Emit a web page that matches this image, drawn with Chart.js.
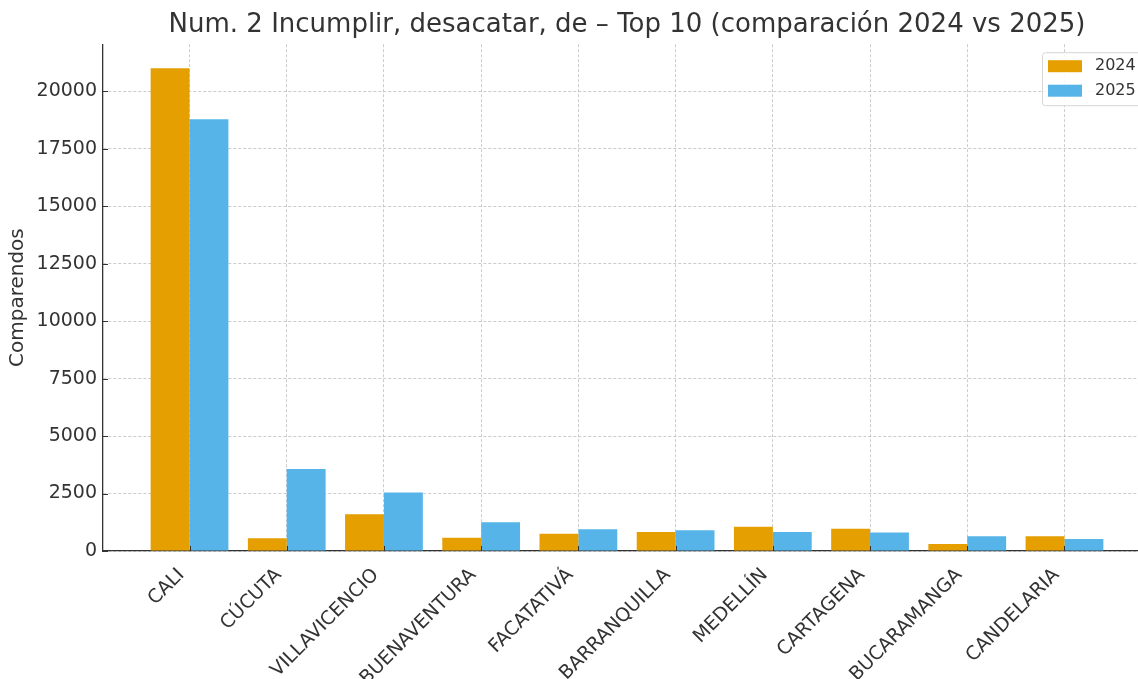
<!DOCTYPE html>
<html>
<head>
<meta charset="utf-8">
<script src="https://cdn.jsdelivr.net/npm/chart.js@4/dist/chart.umd.min.js"></script>
<style>
  html, body { margin: 0; padding: 0; background: #fff; overflow: hidden; }
  #wrap { position: absolute; left: 0; top: 0; width: 1160px; height: 679px; }
</style>
</head>
<body>
<div id="wrap"><canvas id="c"></canvas></div>
<script>
// Top 10 ciudades, comparendos 2024 vs 2025
const CITIES = ['CALI', 'CÚCUTA', 'VILLAVICENCIO', 'BUENAVENTURA', 'FACATATIVÁ',
  'BARRANQUILLA', 'MEDELLÍN', 'CARTAGENA', 'BUCARAMANGA', 'CANDELARIA'];
const VALUES_2024 = [21000, 550, 1600, 580, 750, 830, 1060, 970, 300, 640];
const VALUES_2025 = [18780, 3570, 2550, 1250, 945, 900, 830, 800, 640, 520];
const SERIES_LABELS = ['2024', '2025'];
const Y_TICK_STEP = 2500;
const Y_MAX = 22050;

const TEXT = '#333333';
const FONT = "'DejaVu Sans', sans-serif";
Chart.defaults.font.family = FONT;
Chart.defaults.color = TEXT;

// 刻度線朝內（matplotlib 風格）
const inwardTicks = {
  id: 'inwardTicks',
  afterDatasetsDraw(chart) {
    const { ctx, chartArea: a, scales: { x, y } } = chart;
    ctx.save();
    ctx.strokeStyle = TEXT;
    ctx.lineWidth = 1;
    ctx.beginPath();
    x.ticks.forEach((t) => {
      const px = Math.round(x.getPixelForValue(t.value)) + 0.5;
      ctx.moveTo(px, a.bottom);
      ctx.lineTo(px, a.bottom - 5);
    });
    y.ticks.forEach((t) => {
      const py = Math.round(y.getPixelForValue(t.value)) + 0.5;
      ctx.moveTo(a.left, py);
      ctx.lineTo(a.left + 5, py);
    });
    ctx.stroke();
    ctx.restore();
  },
};

// 圖例框放在繪圖區右上角
const boxLegend = {
  id: 'boxLegend',
  afterDraw(chart) {
    const { ctx, chartArea: a } = chart;
    const w = 101, h = 53, rowH = 24.5;
    const x0 = a.right - 8 - w, y0 = a.top + 8;
    ctx.save();
    ctx.beginPath();
    ctx.roundRect(x0 + 0.5, y0 + 0.5, w, h, 3);
    ctx.fillStyle = 'rgba(255,255,255,0.85)';
    ctx.fill();
    ctx.strokeStyle = '#d6d6d6';
    ctx.lineWidth = 1;
    ctx.stroke();
    chart.data.datasets.forEach((d, i) => {
      const cy = y0 + 14 + i * rowH;
      ctx.fillStyle = d.backgroundColor;
      ctx.fillRect(x0 + 6, cy - 6, 34, 12);
      ctx.fillStyle = TEXT;
      ctx.font = `16px ${FONT}`;
      ctx.textBaseline = 'middle';
      ctx.textAlign = 'left';
      ctx.fillText(d.label, x0 + 53, cy);
    });
    ctx.restore();
  },
};

const toPoints = (vals) => vals.map((v, i) => ({ x: i, y: v }));

new Chart(document.getElementById('c'), {
  type: 'bar',
  data: {
    datasets: [
      { label: SERIES_LABELS[0], data: toPoints(VALUES_2024), backgroundColor: '#E69F00' },
      { label: SERIES_LABELS[1], data: toPoints(VALUES_2025), backgroundColor: '#56B4E9' },
    ],
  },
  plugins: [inwardTicks, boxLegend],
  options: {
    responsive: true,
    maintainAspectRatio: false,
    animation: false,
    layout: { padding: { left: 0, right: 9, top: 0, bottom: 0 } },
    datasets: { bar: { categoryPercentage: 0.8, barPercentage: 1.0, borderWidth: 0 } },
    plugins: {
      legend: { display: false },
      tooltip: { enabled: false },
      title: {
        display: true,
        fullSize: false,
        text: 'Num. 2 Incumplir, desacatar, de – Top 10 (comparación 2024 vs 2025)',
        color: TEXT,
        font: { size: 26, weight: 'normal', lineHeight: 1.2 },
        padding: { top: 10, bottom: 3 },
      },
    },
    scales: {
      x: {
        type: 'linear',
        min: -0.89,
        max: 9.89,
        offset: false,
        afterBuildTicks: (axis) => { axis.ticks = CITIES.map((_, i) => ({ value: i })); },
        afterFit: (axis) => { axis.height = 128; },
        grid: {
          offset: false,
          drawTicks: false,
          color: 'rgba(170,170,170,0.6)',
          lineWidth: 1,
        },
        border: { display: true, color: TEXT, width: 1.3, dash: [3, 2] },
        ticks: {
          autoSkip: false,
          maxRotation: 45,
          minRotation: 45,
          padding: 13,
          labelOffset: -8,
          color: TEXT,
          font: { size: 19 },
          callback: (v) => CITIES[v] ?? '',
        },
      },
      y: {
        type: 'linear',
        min: 0,
        max: Y_MAX,
        afterBuildTicks: (axis) => {
          const ticks = [];
          for (let v = 0; v <= Y_MAX; v += Y_TICK_STEP) ticks.push({ value: v });
          axis.ticks = ticks;
        },
        afterFit: (axis) => { axis.width = 103; },
        grid: {
          drawTicks: false,
          color: 'rgba(170,170,170,0.6)',
          lineWidth: 1,
        },
        border: { display: true, color: TEXT, width: 1.3, dash: [3, 2] },
        ticks: {
          autoSkip: false,
          padding: 6,
          color: TEXT,
          font: { size: 19 },
          callback: (v) => String(v),
        },
        title: {
          display: true,
          text: 'Comparendos',
          color: TEXT,
          font: { size: 20 },
          padding: { top: 6, bottom: 0 },
        },
      },
    },
  },
});
</script>
</body>
</html>
